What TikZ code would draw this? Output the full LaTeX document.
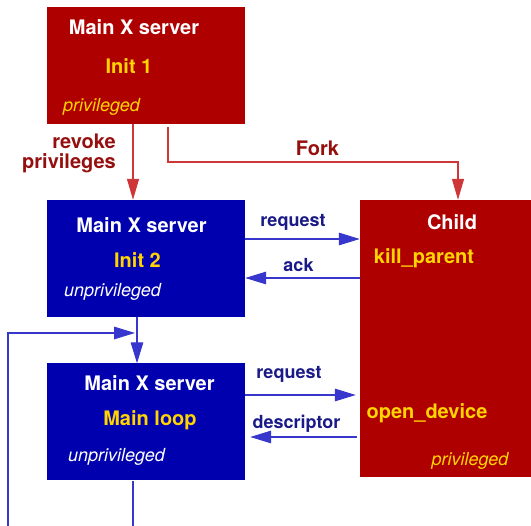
\documentclass[tikz,border=0pt]{standalone}
\usepackage{fontspec}
\setmainfont{TeX Gyre Heros}
\usetikzlibrary{arrows.meta}

\definecolor{boxred}{RGB}{175,0,0}
\definecolor{boxblue}{RGB}{0,0,175}
\definecolor{stepyellow}{RGB}{255,212,0}
\definecolor{labelred}{RGB}{150,15,15}
\definecolor{labelblue}{RGB}{25,25,135}
\definecolor{linered}{RGB}{205,55,55}
\definecolor{lineblue}{RGB}{55,55,205}

\tikzset{
  procbox/.style={draw=none, minimum width=198pt, minimum height=117pt, inner sep=0pt},
  redbox/.style={procbox, fill=boxred},
  bluebox/.style={procbox, fill=boxblue},
  boxtitle/.style={inner sep=0pt, text=white, font=\fontsize{20}{20}\selectfont\bfseries},
  boxstep/.style={inner sep=0pt, text=stepyellow, font=\fontsize{20}{20}\selectfont\bfseries},
  boxnote/.style={inner sep=0pt, font=\fontsize{18}{18}\selectfont\itshape},
  redlabel/.style={inner sep=0pt, text=labelred, font=\fontsize{20}{20}\selectfont\bfseries},
  bluelabel/.style={inner sep=0pt, text=labelblue, font=\fontsize{18}{18}\selectfont\bfseries},
  redline/.style={draw=linered, line width=1.3pt, -{Triangle[length=21pt,width=12pt]}},
  blueline/.style={draw=lineblue, line width=1.4pt, -{Triangle[length=21pt,width=12.5pt]}},
}

\begin{document}
\begin{tikzpicture}
    \useasboundingbox (0pt,0pt) rectangle (531pt,-526pt);
    % boxes
    \node[redbox] (init1) at (146pt,-65.5pt) {};
    \node[bluebox] (init2) at (146pt,-258.5pt) {};
    \node[bluebox] (mainloop) at (146pt,-422pt) {};
    \node[redbox, minimum width=172pt, minimum height=277pt] (child) at (446pt,-338.5pt) {};
    % box texts
    \node[boxtitle] (init1title) at (134pt,-27pt) {Main X server};
    \node[boxstep] (init1step) at (129pt,-66pt) {Init 1};
    \node[boxnote, text=stepyellow] (init1note) at (101.5pt,-106.5pt) {privileged};
    \node[boxtitle] (init2title) at (141.5pt,-225pt) {Main X server};
    \node[boxstep] (init2step) at (137.5pt,-260pt) {Init 2};
    \node[boxnote, text=white] (init2note) at (112.5pt,-291.5pt) {unprivileged};
    \node[boxtitle] (looptitle) at (149.5pt,-383pt) {Main X server};
    \node[boxstep] (loopstep) at (150pt,-420pt) {Main loop};
    \node[boxnote, text=white] (loopnote) at (116.5pt,-456.5pt) {unprivileged};
    \node[boxtitle] (childtitle) at (452pt,-222pt) {Child};
    \node[boxstep] (childkill) at (424pt,-258.5pt) {kill\_parent};
    \node[boxstep] (childopen) at (427pt,-413.5pt) {open\_device};
    \node[boxnote, text=stepyellow] (childnote) at (470pt,-460.5pt) {privileged};
    % connectors
    \coordinate (forkturn) at (458pt,-162pt);
    \coordinate (loopleft) at (8pt,-333pt);
    \coordinate (loopend) at (135pt,-333pt);
    \draw[redline] ([xshift=-13pt]init1.south) -- ([xshift=-13pt]init2.north);
    \draw[redline] ([xshift=22pt,yshift=-3pt]init1.south) |- (forkturn) -- (forkturn |- child.north);
    \draw[blueline] ([yshift=19.5pt]init2.east) -- ([yshift=19.5pt]init2.east -| child.west);
    \draw[blueline] ([yshift=-19.5pt]init2.east -| child.west) -- ([yshift=-19.5pt]init2.east);
    \draw[blueline] ([xshift=-9pt]init2.south) -- ([xshift=-9pt]mainloop.north);
    \draw[blueline, shorten >=4pt] ([yshift=27pt]mainloop.east) -- ([yshift=27pt]mainloop.east -| child.west);
    \draw[blueline, shorten <=3pt, shorten >=5pt] ([yshift=-15pt]mainloop.east -| child.west) -- ([yshift=-15pt]mainloop.east);
    \draw[blueline] ([xshift=-13pt]mainloop.south) -- ++(0pt,-60pt) -| (loopleft) -- (loopend);
    % labels
    \node[redlabel, align=right, anchor=east] (revokelabel) at (116pt,-153.5pt) {revoke\\privileges};
    \node[redlabel] (forklabel) at (317.5pt,-148pt) {Fork};
    \node[bluelabel] (request1label) at (293pt,-222pt) {request};
    \node[bluelabel] (acklabel) at (298.5pt,-265pt) {ack};
    \node[bluelabel] (request2label) at (289pt,-374pt) {request};
    \node[bluelabel] (descriptorlabel) at (296.5pt,-424pt) {descriptor};
\end{tikzpicture}
\end{document}
